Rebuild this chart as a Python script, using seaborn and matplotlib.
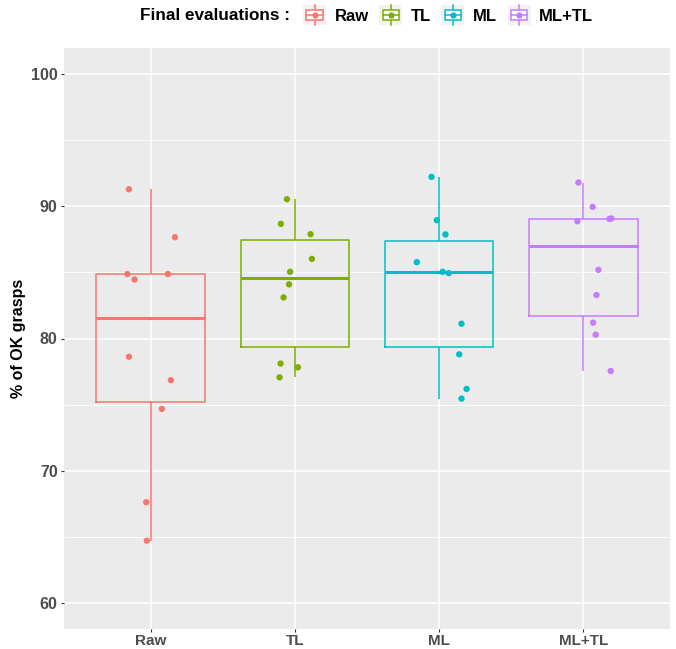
import matplotlib
matplotlib.use('Agg')
import matplotlib.pyplot as plt
import seaborn as sns
import pandas as pd
from matplotlib.legend_handler import HandlerBase
from matplotlib.patches import Rectangle
from matplotlib.lines import Line2D
from matplotlib.ticker import MultipleLocator

# data
methods = ['Raw', 'TL', 'ML', 'ML+TL']
colors = ['#F8766D', '#7CAE00', '#00BFC4', '#C77CFF']

raw = [91.3, 87.67, 84.88, 84.88, 84.47, 78.62, 76.84, 74.67, 67.6, 64.69]
raw_jit = [-0.150, 0.169, -0.161, 0.120, -0.111, -0.150, 0.141, 0.078, -0.030, -0.026]
tl = [90.55, 88.68, 87.90, 86.03, 85.05, 84.10, 83.11, 78.10, 77.82, 77.06]
tl_jit = [-0.055, -0.097, 0.109, 0.118, -0.033, -0.040, -0.078, -0.099, 0.021, -0.106]
ml = [92.24, 88.96, 87.88, 85.78, 85.05, 84.95, 81.12, 78.80, 76.18, 75.45]
ml_jit = [-0.053, -0.016, 0.044, -0.155, 0.024, 0.067, 0.155, 0.139, 0.190, 0.155]
mltl = [91.81, 89.97, 88.88, 89.06, 89.09, 85.2, 83.29, 81.2, 80.29, 77.54]
mltl_jit = [-0.035, 0.064, -0.042, 0.180, 0.194, 0.104, 0.090, 0.067, 0.085, 0.189]

values = [raw, tl, ml, mltl]
jitters = [raw_jit, tl_jit, ml_jit, mltl_jit]

df = pd.DataFrame({
    'method': [m for m, v in zip(methods, values) for _ in v],
    'value': [x for v in values for x in v],
    'jit': [j for js in jitters for j in js],
})
df['pos'] = df['method'].map({m: i for i, m in enumerate(methods)}) + df['jit']

plt.rcParams['font.family'] = ['Liberation Sans', 'DejaVu Sans']

fig, ax = plt.subplots(figsize=(6.76, 6.49), dpi=100)
fig.subplots_adjust(left=64 / 676, right=670 / 676, top=1 - 48 / 649, bottom=1 - 629 / 649)

sns.boxplot(data=df, x='method', y='value', hue='method', order=methods,
            hue_order=methods, palette=colors, fill=False, width=0.75,
            linewidth=1.1, showcaps=False, showfliers=False,
            medianprops={'linewidth': 2.2}, legend=False, ax=ax)
for p in ax.patches:
    p.set_fill(True)
    p.set_facecolor('white')

for m, c in zip(methods, colors):
    sub = df[df['method'] == m]
    ax.scatter(sub['pos'], sub['value'], s=21, color=c, edgecolor='none', zorder=5)

# ggplot-like grey theme
ax.set_facecolor('#EBEBEB')
for s in ax.spines.values():
    s.set_visible(False)
ax.set_axisbelow(True)
ax.set_xlim(-0.6, 3.6)
ax.set_ylim(58, 102)
ax.set_yticks([60, 70, 80, 90, 100])
ax.yaxis.set_minor_locator(MultipleLocator(5))
ax.grid(which='major', color='white', linewidth=1.1)
ax.grid(which='minor', axis='y', color='white', linewidth=0.6)
ax.tick_params(which='minor', length=0)
ax.tick_params(which='major', length=2.5, width=0.8, color='#333333',
               labelcolor='#4D4D4D', labelsize=11.5, pad=2)
ax.tick_params(axis='x', labelsize=11, pad=1)
for lab in ax.get_xticklabels() + ax.get_yticklabels():
    lab.set_fontweight('bold')
ax.set_xlabel('')
ax.set_ylabel('% of OK grasps', fontsize=11.5, fontweight='bold', color='black')
ax.yaxis.set_label_coords(-0.062, 0.5)


class BoxKey(HandlerBase):
    def create_artists(self, legend, orig_handle, xdescent, ydescent,
                       width, height, fontsize, trans):
        c = orig_handle.get_color()
        x0, y0 = -xdescent, -ydescent
        cx, cy = x0 + width / 2, y0 + height / 2
        bg = Rectangle((x0, y0), width, height, facecolor='#F2F2F2',
                       edgecolor='none', transform=trans)
        wl = Line2D([cx, cx], [y0, y0 + height], color=c, lw=1.1, transform=trans)
        box = Rectangle((x0 + 0.15 * width, y0 + 0.24 * height), 0.7 * width,
                        0.52 * height, facecolor='white', edgecolor=c, lw=1.1,
                        transform=trans)
        med = Line2D([x0 + 0.15 * width, x0 + 0.85 * width], [cy, cy],
                     color=c, lw=1.1, transform=trans)
        dot = Line2D([cx], [cy], marker='o', markersize=4.5, color=c,
                     markeredgecolor='none', transform=trans)
        return [bg, wl, box, med, dot]


handles = [Line2D([], [], color=c) for c in colors]
fig.text(140 / 676, 1 - 15 / 649, 'Final evaluations :', fontsize=12.3,
         fontweight='bold', va='center', ha='left')
leg = fig.legend(handles, methods, handler_map={Line2D: BoxKey()},
                 loc='center left', bbox_to_anchor=(303 / 676, 1 - 15 / 649),
                 ncol=4, frameon=False, fontsize=12, borderpad=0,
                 borderaxespad=0, handlelength=1.38, handleheight=1.4,
                 handletextpad=0.52, columnspacing=0.62)
for t in leg.get_texts():
    t.set_fontweight('bold')

fig.savefig('out.png', dpi=100)
